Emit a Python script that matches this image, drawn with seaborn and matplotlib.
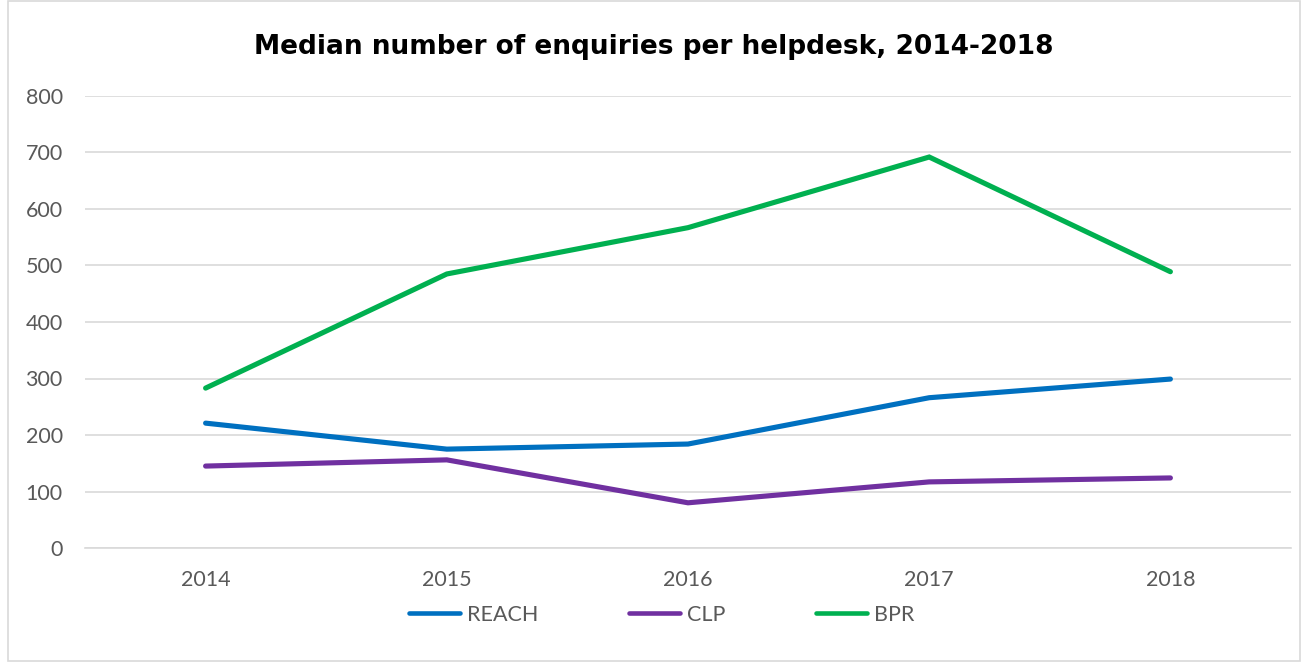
import matplotlib
matplotlib.use("Agg")
import matplotlib.pyplot as plt
import pandas as pd
import seaborn as sns
from matplotlib.patches import Rectangle

# Datos
years = ["2014", "2015", "2016", "2017", "2018"]
reach = [221, 175, 184, 266, 299]
clp = [145, 156, 80, 117, 124]
bpr = [283, 485, 567, 692, 489]

series_names = ["REACH", "CLP", "BPR"]
colors = {"REACH": "#0070C0", "CLP": "#7030A0", "BPR": "#00B050"}

df = pd.DataFrame({"year": years, "REACH": reach, "CLP": clp, "BPR": bpr})
df_long = df.melt(id_vars="year", value_vars=series_names, var_name="serie", value_name="valor")

sns.set_style("white")
plt.rcParams["font.family"] = ["Lato", "DejaVu Sans"]

fig = plt.figure(figsize=(13.08, 6.63), dpi=100)
ax = fig.add_axes([85 / 1308, 1 - 548 / 663, (1291 - 85) / 1308, (548 - 96) / 663])

sns.lineplot(
    data=df_long, x="year", y="valor", hue="serie", palette=colors,
    hue_order=series_names, linewidth=3.7, ax=ax, sort=False,
)
for line in ax.lines:
    line.set_solid_capstyle("round")
    line.set_solid_joinstyle("miter")

ax.set_xlim(-0.5, 4.5)
ax.set_ylim(0, 800)
ax.set_yticks(range(0, 801, 100))
ax.grid(axis="y", color="#D9D9D9", linewidth=1.2)
ax.set_axisbelow(True)
for s in ax.spines.values():
    s.set_visible(False)
ax.spines["bottom"].set_visible(True)
ax.spines["bottom"].set_color("#D9D9D9")
ax.spines["bottom"].set_linewidth(1.2)
ax.tick_params(axis="both", length=0, labelsize=15.5, labelcolor="#595959")
ax.tick_params(axis="x", pad=16)
ax.tick_params(axis="y", pad=16)
ax.set_xlabel("")
ax.set_ylabel("")

fig.text(0.5, 1 - 47 / 663, "Median number of enquiries per helpdesk, 2014-2018",
         ha="center", va="center", fontsize=19, fontweight="bold",
         family=["DejaVu Sans"], color="black")

leg = ax.legend(
    loc="center", bbox_to_anchor=(0.478, (548 - 615) / (548 - 96)), ncol=3,
    frameon=False, fontsize=15.5, handlelength=2.4, handletextpad=0.3,
    columnspacing=4.2,
)
for t in leg.get_texts():
    t.set_color("#595959")
for h in leg.get_lines():
    h.set_linewidth(3.3)
    h.set_solid_capstyle("round")

fig.patches.append(Rectangle((8 / 1308, 2 / 663), 1292 / 1308, 660 / 663,
                             transform=fig.transFigure, fill=False,
                             edgecolor="#D9D9D9", linewidth=1.2))

fig.savefig("out.png", dpi=100)
